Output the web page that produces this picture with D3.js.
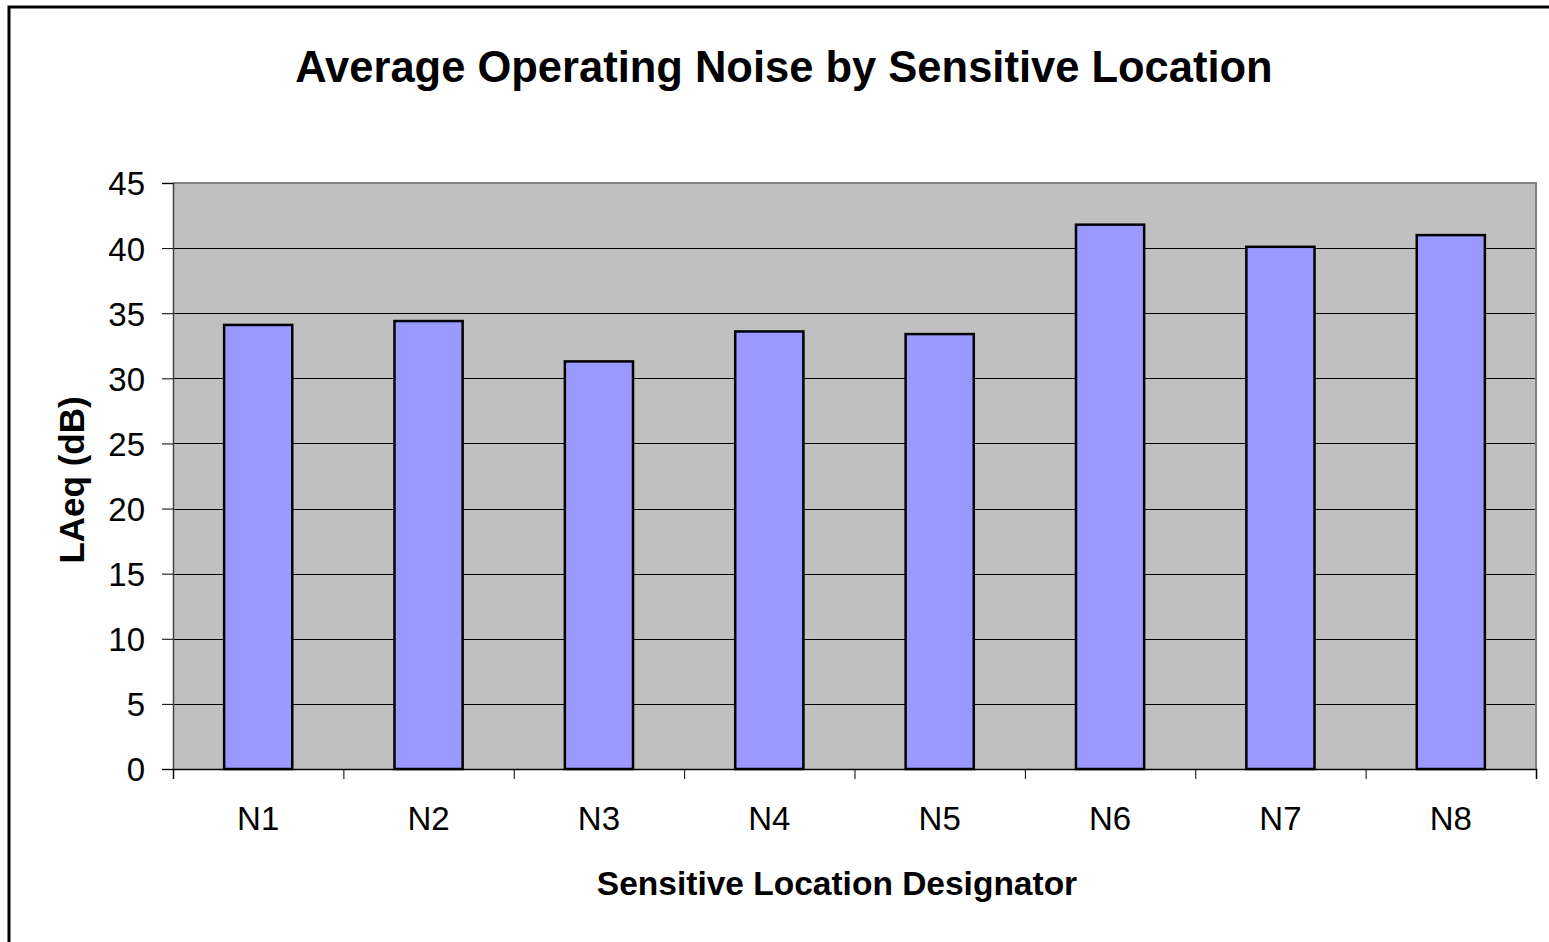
<!DOCTYPE html>
<html>
<head>
<meta charset="utf-8">
<script src="https://cdn.jsdelivr.net/npm/d3@7"></script>
<style>
    body { margin: 0; background: #fff; }
    svg { display: block; }
    text { font-family: "Liberation Sans", Arial, sans-serif; fill: #000; }
</style>
</head>
<body>
<div id="chart"></div>
<script>
var locations = ["N1", "N2", "N3", "N4", "N5", "N6", "N7", "N8"];
var laeq = [34.1, 34.4, 31.3, 33.6, 33.4, 41.8, 40.1, 41.0];
var yTicks = [0, 5, 10, 15, 20, 25, 30, 35, 40, 45];

var width = 1549;
var height = 942;
var margin = { top: 183, right: 13, bottom: 173, left: 173 };
var w = width - margin.left - margin.right;
var h = height - margin.top - margin.bottom;

var svg = d3.select("#chart")
    .append("svg")
    .attr("width", width)
    .attr("height", height);

// outer chart border, runs off the right and bottom of the picture
svg.append("rect")
    .attr("x", 9)
    .attr("y", 7)
    .attr("width", width + 20)
    .attr("height", height + 20)
    .attr("fill", "#fff")
    .attr("stroke", "#000")
    .attr("stroke-width", 3);

svg.append("text")
    .attr("x", 784)
    .attr("y", 82)
    .attr("text-anchor", "middle")
    .style("font-size", "43.5px")
    .style("font-weight", "bold")
    .text("Average Operating Noise by Sensitive Location");

var x = d3.scaleBand()
    .domain(locations)
    .range([0, w])
    .paddingInner(0.6)
    .paddingOuter(0.3);

var y = d3.scaleLinear()
    .domain([0, 45])
    .range([h, 0]);

var g = svg.append("g")
    .attr("transform", "translate(" + margin.left + "," + margin.top + ")");

g.append("rect")
    .attr("width", w)
    .attr("height", h)
    .attr("fill", "#c0c0c0");

g.selectAll(".grid")
    .data(yTicks.filter(function (d) { return d > 0 && d < 45; }))
    .enter()
    .append("line")
    .attr("class", "grid")
    .attr("x1", 0)
    .attr("x2", w)
    .attr("y1", function (d) { return Math.round(y(d)) + 0.5; })
    .attr("y2", function (d) { return Math.round(y(d)) + 0.5; })
    .attr("stroke", "#000")
    .attr("stroke-width", 1);

// plot area border (top and right)
g.append("path")
    .attr("d", "M0," + y(45) + "H" + w + "V" + h)
    .attr("fill", "none")
    .attr("stroke", "#808080")
    .attr("stroke-width", 2);

g.selectAll(".bar")
    .data(laeq)
    .enter()
    .append("rect")
    .attr("class", "bar")
    .attr("x", function (d, i) { return x(locations[i]); })
    .attr("y", function (d) { return y(d); })
    .attr("width", x.bandwidth())
    .attr("height", function (d) { return h - y(d); })
    .attr("fill", "#9999ff")
    .attr("stroke", "#000")
    .attr("stroke-width", 2.5);

var yAxis = d3.axisLeft(y)
    .tickValues(yTicks)
    .tickSize(11)
    .tickPadding(17);

var ya = g.append("g").call(yAxis);
ya.select(".domain").attr("stroke", "#404040").attr("stroke-width", 1.5);
ya.selectAll(".tick line").attr("stroke", "#000");
ya.selectAll(".tick text")
    .style("font-size", "33px")
    .attr("dy", "0.36em")
    .attr("font-family", null);

// category boundary ticks
var xEdge = d3.scaleLinear().domain([0, locations.length]).range([0, w]);
var xAxis = d3.axisBottom(xEdge)
    .tickValues(d3.range(locations.length + 1))
    .tickSize(10)
    .tickFormat("");
var xa = g.append("g")
    .attr("transform", "translate(0," + h + ")")
    .call(xAxis);
xa.select(".domain").attr("stroke", "#000").attr("stroke-width", 1.5);

g.selectAll(".xlab")
    .data(locations)
    .enter()
    .append("text")
    .attr("class", "xlab")
    .attr("x", function (d) { return x(d) + x.bandwidth() / 2; })
    .attr("y", h + 61)
    .attr("text-anchor", "middle")
    .style("font-size", "33px")
    .text(function (d) { return d; });

svg.append("text")
    .attr("x", 837)
    .attr("y", 895)
    .attr("text-anchor", "middle")
    .style("font-size", "33.5px")
    .style("font-weight", "bold")
    .text("Sensitive Location Designator");

svg.append("text")
    .attr("transform", "translate(84,480) rotate(-90)")
    .attr("text-anchor", "middle")
    .style("font-size", "35px")
    .style("font-weight", "bold")
    .text("LAeq (dB)");
</script>
</body>
</html>
